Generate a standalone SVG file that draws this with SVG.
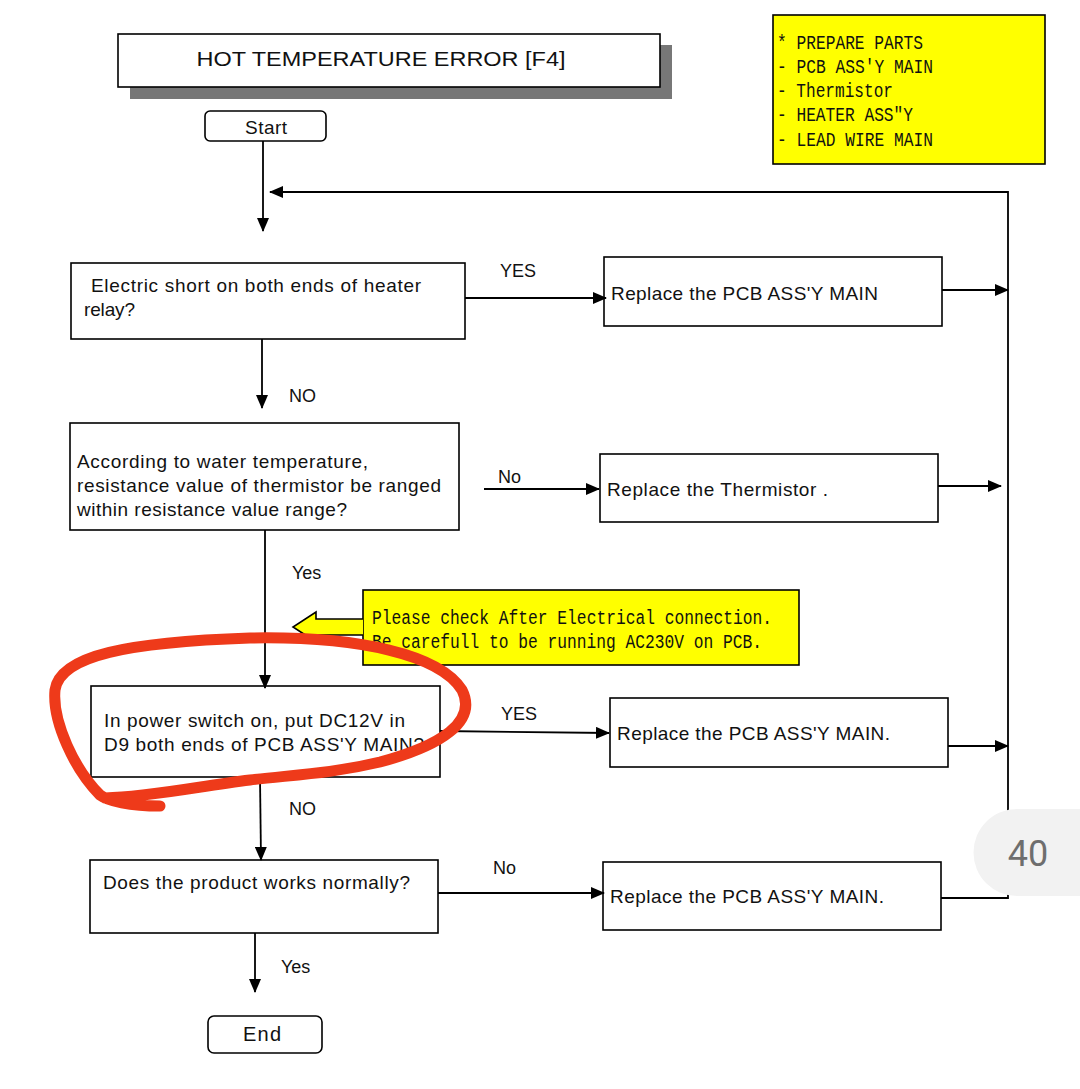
<svg xmlns="http://www.w3.org/2000/svg" width="1080" height="1089" viewBox="0 0 1080 1089">
<style>
.box{fill:#fff;stroke:#000;stroke-width:1.6}
.yel{fill:#ffff00;stroke:#000;stroke-width:1.6}
.t{font-family:"Liberation Sans",Arial,sans-serif;font-size:19px;fill:#111}
.l{font-family:"Liberation Sans",Arial,sans-serif;font-size:18px;fill:#111}
.m{font-family:"Liberation Mono","Courier New",monospace;font-size:21px;fill:#111}
.c{fill:none;stroke:#000;stroke-width:1.8}
</style>
<defs>
<marker id="ah" markerUnits="userSpaceOnUse" markerWidth="14" markerHeight="12" refX="13" refY="6" orient="auto">
<path d="M0,0 L14,6 L0,12 Z" fill="#000"/>
</marker>
</defs>
<rect width="1080" height="1089" fill="#fff"/>

<g id="title">
<rect x="130" y="45" width="542" height="54" fill="#777"/>
<rect class="box" x="118" y="34" width="542" height="53"/>
<text x="381" y="66" text-anchor="middle" class="t" style="font-size:21px" textLength="369" lengthAdjust="spacingAndGlyphs">HOT TEMPERATURE ERROR [F4]</text>
</g>

<g id="parts">
<rect class="yel" x="773" y="15" width="272" height="149"/>
<text class="m" x="777" y="49" textLength="146" lengthAdjust="spacingAndGlyphs">* PREPARE PARTS</text>
<text class="m" x="777" y="73" textLength="156" lengthAdjust="spacingAndGlyphs">- PCB ASS'Y MAIN</text>
<text class="m" x="777" y="97" textLength="116" lengthAdjust="spacingAndGlyphs">- Thermistor</text>
<text class="m" x="777" y="121" textLength="136" lengthAdjust="spacingAndGlyphs">- HEATER ASS"Y</text>
<text class="m" x="777" y="146" textLength="156" lengthAdjust="spacingAndGlyphs">- LEAD WIRE MAIN</text>
</g>

<g id="start">
<rect class="box" x="205" y="111" width="121" height="30" rx="5"/>
<text class="t" x="245" y="134" textLength="42">Start</text>
</g>

<g id="q1">
<rect class="box" x="71" y="263" width="394" height="76"/>
<text class="t" x="91" y="292" textLength="330">Electric short on both ends of heater</text>
<text class="t" x="84" y="316" textLength="51">relay?</text>
</g>

<g id="r1">
<rect class="box" x="604" y="257" width="338" height="69"/>
<text class="t" x="611" y="300" textLength="267">Replace the PCB ASS'Y MAIN</text>
</g>

<g id="q2">
<rect class="box" x="70" y="423" width="389" height="107"/>
<text class="t" x="77" y="468" textLength="291">According to water temperature,</text>
<text class="t" x="77" y="492" textLength="364">resistance value of thermistor be ranged</text>
<text class="t" x="77" y="516" textLength="270">within resistance value range?</text>
</g>

<g id="r2">
<rect class="box" x="600" y="454" width="338" height="68"/>
<text class="t" x="607" y="496" textLength="221">Replace the Thermistor .</text>
</g>

<g id="note">
<rect class="yel" x="363" y="590" width="436" height="75"/>
<path d="M363,619 L316,619 L316,612 L293,627 L316,642 L316,635 L363,635" fill="#ffff00" stroke="#000" stroke-width="1.6"/>
<text class="m" x="372" y="624" style="font-size:20px" textLength="400" lengthAdjust="spacingAndGlyphs">Please check After Electrical connection.</text>
<text class="m" x="372" y="648" style="font-size:20px" textLength="390" lengthAdjust="spacingAndGlyphs">Be carefull to be running AC230V on PCB.</text>
</g>

<g id="q3">
<rect class="box" x="91" y="686" width="349" height="91"/>
<text class="t" x="104" y="727" textLength="301">In power switch on, put DC12V in</text>
<text class="t" x="104" y="751" textLength="320">D9 both ends of PCB ASS'Y MAIN?</text>
</g>

<g id="r3">
<rect class="box" x="610" y="698" width="338" height="69"/>
<text class="t" x="617" y="740" textLength="273">Replace the PCB ASS'Y MAIN.</text>
</g>

<g id="q4">
<rect class="box" x="90" y="860" width="348" height="73"/>
<text class="t" x="103" y="889" textLength="307">Does the product works normally?</text>
</g>

<g id="r4">
<rect class="box" x="603" y="862" width="338" height="68"/>
<text class="t" x="610" y="903" textLength="274">Replace the PCB ASS'Y MAIN.</text>
</g>

<g id="end">
<rect class="box" x="208" y="1016" width="114" height="37" rx="6"/>
<text class="t" x="243" y="1041" style="font-size:20px" textLength="38">End</text>
</g>

<g id="connectors">
<line class="c" x1="263" y1="141" x2="263" y2="231" marker-end="url(#ah)"/>
<polyline class="c" points="941,898 1008,898 1008,192 270,192" marker-end="url(#ah)"/>
<line class="c" x1="465" y1="298" x2="606" y2="298" marker-end="url(#ah)"/>
<line class="c" x1="942" y1="290" x2="1008" y2="290" marker-end="url(#ah)"/>
<line class="c" x1="262" y1="339" x2="262" y2="408" marker-end="url(#ah)"/>
<line class="c" x1="484" y1="489" x2="599" y2="489" marker-end="url(#ah)"/>
<line class="c" x1="938" y1="486" x2="1001" y2="486" marker-end="url(#ah)"/>
<line class="c" x1="265" y1="530" x2="265" y2="688" marker-end="url(#ah)"/>
<line class="c" x1="440" y1="731" x2="609" y2="733" marker-end="url(#ah)"/>
<line class="c" x1="948" y1="746" x2="1008" y2="746" marker-end="url(#ah)"/>
<line class="c" x1="260" y1="777" x2="261" y2="860" marker-end="url(#ah)"/>
<line class="c" x1="438" y1="893" x2="604" y2="893" marker-end="url(#ah)"/>
<line class="c" x1="255" y1="933" x2="255" y2="992" marker-end="url(#ah)"/>
<text class="l" x="500" y="277">YES</text>
<text class="l" x="289" y="402">NO</text>
<text class="l" x="498" y="483">No</text>
<text class="l" x="292" y="579">Yes</text>
<text class="l" x="501" y="720">YES</text>
<text class="l" x="289" y="815">NO</text>
<text class="l" x="493" y="874">No</text>
<text class="l" x="281" y="973">Yes</text>
</g>

<g id="page-badge">
<path d="M1017,809 L1080,809 L1080,896 L1017,896 A43.5,43.5 0 0 1 1017,809 Z" fill="#f2f2f2"/>
<text x="1028" y="866" text-anchor="middle" style="font-family:Roboto,'Liberation Sans',sans-serif;font-size:36px" fill="#6e6e6e">40</text>
</g>

<g id="annotation">
<path d="M160,806 C130,806 108,801 100,795 C75,770 52,722 55,690 C60,655 130,642 250,638 C360,636 440,655 462,690 C478,722 440,746 380,762 C330,774 290,775 250,780 C200,786 150,797 105,798" fill="none" stroke="#ee3a1a" stroke-width="11" stroke-linecap="round" stroke-linejoin="round"/>
</g>
</svg>
